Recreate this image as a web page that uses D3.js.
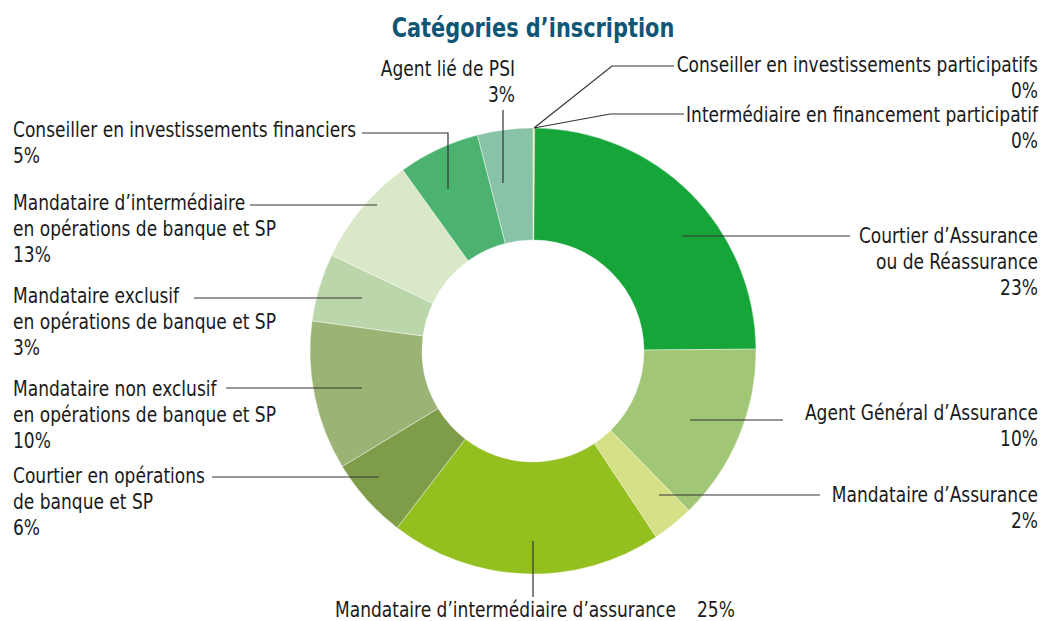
<!DOCTYPE html>
<html>
<head>
<meta charset="utf-8">
<script src="https://cdn.jsdelivr.net/npm/d3@7"></script>
<style>
  body { margin: 0; background: #fff; }
  svg text { font-family: "DejaVu Sans Condensed", "Liberation Sans Narrow", sans-serif; fill: #1a1a1a; }
</style>
</head>
<body>
<div id="canvas"></div>
<script>
// categories, clockwise from 12 o'clock
var categories = [
  'Conseiller en investissements participatifs',
  'Intermédiaire en financement participatif',
  'Courtier d’Assurance\nou de Réassurance',
  'Agent Général d’Assurance',
  'Mandataire d’Assurance',
  'Mandataire d’intermédiaire d’assurance',
  'Courtier en opérations\nde banque et SP',
  'Mandataire non exclusif\nen opérations de banque et SP',
  'Mandataire exclusif\nen opérations de banque et SP',
  'Mandataire d’intermédiaire\nen opérations de banque et SP',
  'Conseiller en investissements financiers',
  'Agent lié de PSI'
];
// slice sizes as drawn (share of the ring, %)
var shares = [0.02, 0.1, 24.7, 12.8, 3.0, 19.7, 5.9, 10.8, 4.9, 8.0, 5.9, 4.0];
// percentages printed in the labels
var pctLabels = ['0%', '0%', '23%', '10%', '2%', '25%', '6%', '10%', '3%', '13%', '5%', '3%'];

var colors = ['#e2d36a', '#ead66a', '#16a538', '#a1c676', '#d6e086', '#93c01f',
              '#7f9c48', '#9bb475', '#bbd6aa', '#d9e8c6', '#4bb270', '#88c3a8'];

// label placement: first baseline, anchor, leader line
var layout = [
  {x:1038, y:72,  anchor:'end',   line:[[534,128],[612,66],[674,66]]},
  {x:1038, y:122, anchor:'end',   line:[[534,128],[610,114],[684,114]]},
  {x:1038, y:243, anchor:'end',   line:[[682,236],[850,236]]},
  {x:1038, y:420, anchor:'end',   line:[[690,420],[783,420]]},
  {x:1038, y:502, anchor:'end',   line:[[659,495],[820,495]]},
  {x:335,  y:617, anchor:'start', pctX:697, line:[[533,541],[533,597]]},
  {x:13,   y:483, anchor:'start', line:[[212,477],[379,477]]},
  {x:13,   y:396, anchor:'start', line:[[226,388],[362,388]]},
  {x:13,   y:303, anchor:'start', line:[[194,298],[362,298]]},
  {x:13,   y:210, anchor:'start', line:[[250,205],[377,205]]},
  {x:13,   y:137, anchor:'start', line:[[362,133],[448,133],[448,189]]},
  {x:515,  y:76,  anchor:'end',   line:[[503,110],[503,183]]}
];

var W = 1041, H = 621;
var cx = 533, cy = 351, rOuter = 223, rInner = 111, lh = 26;
var sx = 0.925; // horizontal squeeze to mimic the condensed face

var svg = d3.select('#canvas').append('svg')
    .attr('width', W)
    .attr('height', H);

svg.append('text')
    .attr('transform', 'translate(' + cx + ',37) scale(0.86,1)')
    .attr('text-anchor', 'middle')
    .style('font-size', '27px')
    .style('font-weight', 'bold')
    .style('fill', '#0f5574')
    .text('Catégories d’inscription');

var pie = d3.pie().sort(null).value(function(d){return d;});
var arc = d3.arc().innerRadius(rInner).outerRadius(rOuter);

var ring = svg.append('g').attr('transform', 'translate(' + cx + ',' + cy + ')');
ring.selectAll('path')
    .data(pie(shares))
    .enter()
    .append('path')
    .attr('d', arc)
    .attr('fill', function(d, i){return colors[i];})
    .attr('stroke', '#fff')
    .attr('stroke-width', 0.4);

// leader lines
var line = d3.line();
svg.selectAll('.leader')
    .data(layout)
    .enter()
    .append('path')
    .attr('class', 'leader')
    .attr('d', function(d){return line(d.line);})
    .attr('fill', 'none')
    .attr('stroke', '#333')
    .attr('stroke-width', 1.2);

// labels
var labels = svg.selectAll('.label')
    .data(categories)
    .enter()
    .append('text')
    .attr('class', 'label')
    .attr('transform', function(d, i){
        return 'translate(' + layout[i].x + ',' + layout[i].y + ') scale(' + sx + ',1)';
    })
    .attr('text-anchor', function(d, i){return layout[i].anchor;})
    .style('font-size', '20.5px');

labels.each(function(d, i){
    var el = d3.select(this), L = layout[i];
    var rows = d.split('\n');
    rows.forEach(function(r, k){
        el.append('tspan').attr('x', 0).attr('y', k * lh).text(r);
    });
    if (L.pctX) {
        el.append('tspan').attr('x', (L.pctX - L.x) / sx).attr('y', 0).text(pctLabels[i]);
    } else {
        el.append('tspan').attr('x', 0).attr('y', rows.length * lh).text(pctLabels[i]);
    }
});
</script>
</body>
</html>
